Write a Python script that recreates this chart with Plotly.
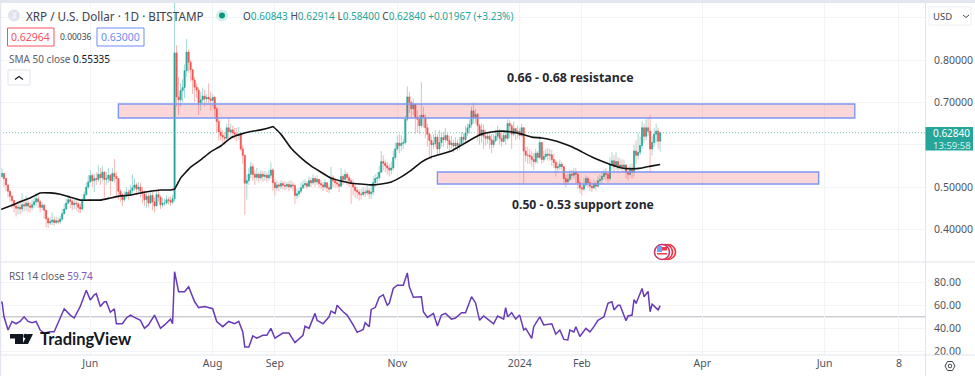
import pandas as pd
import plotly.graph_objects as go

start_date = "2023-04-17"
closes = [
 .525,.532,.520,.505,.490,.478,.468,.455,.450,.452,
 .448,.458,.455,.462,.455,.452,.458,.465,.472,.465,
 .452,.457,.445,.425,.415,.418,.422,.416,.420,.418,
 .424,.437,.448,.462,.470,.466,.458,.462,.460,.452,
 .448,.470,.482,.500,.512,.527,.515,.520,.518,.530,
 .522,.535,.518,.520,.528,.515,.532,.525,.520,.490,
 .482,.470,.478,.488,.480,.492,.498,.505,.495,.500,
 .490,.484,.470,.478,.462,.480,.465,.455,.482,.476,
 .458,.462,.462,.470,.468,.464,.472,.817,.713,.706,
 .728,.735,.775,.819,.795,.777,.753,.736,.729,.699,
 .706,.715,.708,.712,.708,.705,.712,.685,.655,.630,
 .622,.618,.615,.640,.630,.635,.628,.625,.622,.625,
 .590,.575,.509,.515,.530,.548,.530,.523,.530,.522,
 .530,.525,.528,.522,.528,.540,.510,.498,.505,.502,
 .508,.504,.502,.506,.500,.505,.503,.480,.484,.490,
 .498,.505,.508,.502,.515,.510,.520,.512,.518,.508,
 .505,.500,.510,.498,.495,.522,.515,.510,.507,.502,
 .525,.518,.530,.522,.515,.508,.500,.492,.488,.483,
 .482,.488,.486,.491,.484,.488,.510,.520,.522,.535,
 .560,.556,.550,.545,.540,.545,.570,.590,.604,.598,
 .603,.605,.660,.713,.700,.685,.695,.665,.660,.645,
 .670,.665,.640,.625,.610,.600,.603,.618,.590,.605,
 .617,.612,.622,.610,.600,.604,.597,.604,.598,.602,
 .618,.612,.628,.640,.648,.680,.665,.672,.645,.622,
 .635,.620,.615,.620,.612,.600,.610,.620,.628,.615,
 .608,.622,.615,.650,.645,.625,.638,.630,.632,.622,
 .640,.585,.575,.575,.572,.565,.560,.580,.570,.605,
 .565,.572,.578,.575,.576,.565,.558,.545,.548,.554,
 .548,.520,.512,.518,.530,.528,.534,.530,.510,.498,
 .495,.505,.520,.510,.502,.498,.508,.502,.515,.518,
 .525,.532,.530,.520,.552,.562,.548,.560,.545,.552,
 .548,.552,.535,.530,.545,.535,.585,.575,.582,.598,
 .640,.620,.640,.632,.590,.605,.625,.632,.60843,.62840,
]
highs = [
 .535,.545,.525,.515,.500,.490,.480,.470,.460,.465,
 .470,.485,.470,.480,.470,.465,.470,.480,.486,.480,
 .470,.465,.460,.440,.430,.428,.440,.430,.430,.428,
 .432,.448,.460,.472,.478,.475,.470,.472,.470,.465,
 .462,.475,.490,.510,.528,.540,.532,.530,.535,.552,
 .545,.550,.538,.535,.545,.530,.545,.566,.535,.520,
 .495,.485,.490,.500,.495,.505,.530,.520,.510,.512,
 .510,.500,.492,.490,.485,.492,.488,.475,.490,.495,
 .480,.475,.472,.480,.476,.478,.482,.938,.835,.760,
 .745,.755,.790,.850,.825,.800,.780,.760,.745,.735,
 .725,.735,.730,.720,.745,.725,.720,.715,.690,.665,
 .640,.635,.630,.650,.665,.650,.645,.640,.640,.642,
 .625,.600,.575,.530,.545,.560,.555,.540,.545,.535,
 .540,.538,.538,.535,.540,.558,.545,.520,.515,.512,
 .516,.514,.514,.512,.514,.516,.512,.508,.496,.498,
 .510,.515,.518,.514,.525,.522,.530,.525,.528,.520,
 .516,.512,.518,.510,.505,.548,.528,.522,.520,.515,
 .545,.530,.540,.535,.528,.520,.518,.505,.500,.495,
 .495,.500,.498,.503,.498,.505,.525,.530,.535,.550,
 .585,.575,.565,.560,.555,.560,.585,.605,.622,.625,
 .622,.615,.668,.738,.725,.705,.710,.695,.680,.670,
 .748,.690,.672,.650,.630,.620,.625,.635,.625,.635,
 .630,.630,.640,.630,.620,.620,.612,.618,.612,.618,
 .630,.628,.645,.650,.660,.690,.700,.685,.675,.650,
 .650,.648,.635,.630,.628,.625,.625,.635,.645,.638,
 .625,.635,.630,.660,.658,.650,.655,.640,.645,.640,
 .650,.642,.595,.595,.590,.585,.580,.590,.585,.620,
 .605,.585,.590,.592,.590,.588,.578,.565,.560,.565,
 .560,.548,.528,.532,.542,.540,.545,.545,.538,.518,
 .510,.522,.528,.525,.518,.512,.518,.515,.525,.530,
 .538,.542,.545,.535,.570,.582,.575,.582,.570,.568,
 .565,.565,.555,.540,.555,.555,.600,.610,.628,.620,
 .655,.650,.660,.665,.670,.620,.640,.650,.640,.62914,
]
lows = [
 .510,.520,.500,.490,.475,.465,.450,.440,.430,.435,
 .435,.440,.442,.445,.440,.440,.445,.450,.455,.450,
 .440,.445,.425,.405,.403,.410,.410,.408,.412,.412,
 .412,.420,.435,.445,.458,.450,.445,.448,.445,.440,
 .438,.445,.468,.480,.495,.510,.500,.488,.505,.512,
 .505,.512,.475,.505,.510,.480,.512,.510,.480,.470,
 .465,.455,.465,.475,.470,.480,.485,.490,.480,.485,
 .475,.462,.455,.450,.452,.460,.445,.440,.455,.465,
 .448,.452,.455,.458,.458,.455,.460,.465,.690,.670,
 .690,.700,.710,.760,.770,.750,.720,.700,.710,.670,
 .680,.695,.690,.695,.695,.680,.690,.665,.630,.610,
 .610,.604,.600,.610,.615,.618,.615,.612,.608,.612,
 .585,.555,.434,.470,.505,.520,.515,.505,.515,.510,
 .515,.512,.515,.512,.515,.520,.490,.478,.490,.490,
 .495,.494,.492,.495,.490,.495,.490,.460,.472,.476,
 .485,.495,.498,.495,.500,.500,.505,.500,.505,.498,
 .495,.490,.495,.488,.485,.495,.500,.498,.498,.488,
 .510,.505,.515,.505,.500,.460,.480,.475,.472,.468,
 .470,.478,.476,.480,.472,.472,.480,.500,.505,.515,
 .540,.540,.535,.530,.525,.530,.540,.565,.585,.580,
 .585,.590,.600,.655,.675,.665,.670,.625,.630,.625,
 .640,.640,.615,.595,.570,.565,.590,.595,.575,.580,
 .595,.595,.605,.590,.585,.590,.582,.590,.585,.588,
 .600,.598,.605,.620,.625,.640,.650,.650,.610,.600,
 .605,.590,.598,.602,.590,.580,.592,.605,.610,.600,
 .595,.605,.600,.610,.615,.590,.620,.610,.615,.612,
 .618,.508,.560,.555,.555,.548,.540,.555,.555,.565,
 .555,.558,.565,.562,.562,.550,.545,.525,.535,.540,
 .540,.505,.500,.505,.515,.518,.520,.505,.495,.485,
 .480,.490,.502,.498,.490,.488,.495,.492,.500,.505,
 .510,.518,.515,.510,.515,.540,.535,.540,.535,.540,
 .535,.535,.520,.515,.525,.520,.525,.555,.565,.575,
 .590,.605,.610,.620,.535,.575,.595,.605,.590,.58400,
]
sma_index = [0,5,10,15,20,25,30,35,40,45,50,55,60,65,70,75,80,85,87,90,95,100,105,110,115,120,125,130,135,136,
             140,145,150,155,160,165,170,175,180,185,190,195,200,205,210,215,220,225,230,235,240,245,250,255,
             260,265,270,275,280,285,290,295,300,305,310,315,320,325,329]
sma_values = [.446,.455,.465,.474,.486,.486,.483,.476,.469,.469,.469,.474,.479,.481,.486,.490,.493,.493,.495,.521,
              .547,.564,.583,.597,.616,.625,.631,.635,.641,.643,
              .625,.592,.569,.550,.535,.521,.514,.509,.507,.505,.507,.512,.524,.540,.559,.571,.578,.585,.599,.613,
              .625,.630,.632,.630,.625,.618,.616,.611,.604,.595,.583,.571,.561,.552,.545,.543,.545,.550,.55335]
rsi_index = [0,1,2,4,6,8,10,12,14,16,18,20,22,25,27,30,32,35,37,40,43,45,47,48,50,52,53,55,57,58,61,63,65,67,70,72,74,
             77,80,82,85,86,87,89,92,94,97,99,102,106,108,111,114,117,119,121,122,124,126,128,131,133,135,137,141,144,147,
             151,152,154,157,158,161,
             164,165,167,168,171,173,176,178,181,182,184,185,187,189,191,193,194,196,198,201,203,204,206,210,211,213,216,218,
             220,222,225,227,230,232,235,237,239,241,244,246,248,251,252,253,255,257,259,261,262,265,266,269,271,275,277,279,
             281,283,284,286,287,289,292,294,296,298,301,303,305,306,308,309,312,313,315,316,317,320,321,323,324,325,328,329]
rsi_values = [61.6,63,50,38.6,46,44,46,50,46,45,46,38.6,36,37,37,49,57,51.5,49,59,73,64.5,69,70,59,63,63,54,57,44,44,49,51.5,49.5,47,40,43,
              51.5,40,43,48,44,89,71.7,71.7,76,63,58,59,57,46,41.5,46,44,46,37,24,24,33.5,31.5,34,34,40,31.5,36,36,27.7,
              34,42,40,53,47,44,
              50,55,53,60,54.4,51.5,43,36.6,39,45,41.5,56.4,58,67,69,60,61.6,74.5,77.4,77.4,88,76,67,67.4,54.4,49.5,53,42,
              51.5,53,48,49,53.6,53.6,67.4,62,47,50.7,46.7,44,50.7,48,58,50,53.6,48,51.5,38.6,40,31.4,41.5,50,43,44,35,38.6,
              30.5,30,38.6,37,41.5,33,40,37,41.5,47,50,61.6,63,56,60,60,46.7,50.7,51.5,65,61.6,74.5,67.4,72,54.4,61,56,59.74]
x_ticks = ["2023-06-01","2023-08-01","2023-09-01","2023-11-01","2024-01-01","2024-02-01","2024-04-01","2024-06-01","2024-07-08"]
x_labels = ["Jun","Aug","Sep","Nov","2024","Feb","Apr","Jun","8"]
price_ticks = [.4,.5,.6,.7,.8,.9]
price_labels = ["0.40000","0.50000","","0.70000","0.80000",""]
rsi_ticks = [20,40,60,80]
rsi_labels = ["20.00","40.00","60.00","80.00"]

dates = pd.date_range(start_date, periods=len(closes), freq="D")
opens = [closes[0]] + closes[:-1]
opens[-1] = 0.60843
body_hi = [max(a, b) for a, b in zip(opens, closes)]
body_lo = [min(a, b) for a, b in zip(opens, closes)]

W, H = 975, 376
L, R, T, B = 0, 925, 3, 355
DIV = 262
def px(x): return (x - L) / (R - L)
def py(y): return (B - y) / (B - T)

UP, DOWN = "#26a69a", "#ef5350"
TXT = "#131722"
GRID = "#f3f4f7"
SEP = "#e0e3eb"
FONT = "Noto Sans, sans-serif"

fig = go.Figure()
fig.add_trace(go.Candlestick(x=dates, open=opens, high=highs, low=lows, close=closes, xaxis="x", yaxis="y",
    increasing=dict(line=dict(color="#a3dad4", width=1), fillcolor="#a3dad4"),
    decreasing=dict(line=dict(color="#f9b5b3", width=1), fillcolor="#f9b5b3")))
fig.add_trace(go.Candlestick(x=dates, open=opens, high=body_hi, low=body_lo, close=closes, xaxis="x", yaxis="y",
    increasing=dict(line=dict(color=UP, width=0.6), fillcolor=UP),
    decreasing=dict(line=dict(color=DOWN, width=0.6), fillcolor=DOWN)))
fig.add_trace(go.Scatter(x=[dates[i] for i in sma_index], y=sma_values, mode="lines", xaxis="x", yaxis="y",
    line=dict(color="#131313", width=1.6, shape="spline", smoothing=0.3)))
fig.add_trace(go.Scatter(x=[dates[i] for i in rsi_index], y=rsi_values, mode="lines", xaxis="x2", yaxis="y2",
    line=dict(color="#673ab7", width=1.5)))

shapes, ann = [], []
def rect(x0, y0, x1, y1, fill=None, line=None, lw=1):
    shapes.append(dict(type="rect", xref="paper", yref="paper", x0=px(x0), x1=px(x1), y0=py(y0), y1=py(y1),
                       fillcolor=fill or "rgba(0,0,0,0)", line=dict(color=line or "rgba(0,0,0,0)", width=lw if line else 0), layer="above"))
def circle(cx, cy, r, fill=None, line=None, lw=1):
    shapes.append(dict(type="circle", xref="paper", yref="paper", x0=px(cx-r), x1=px(cx+r), y0=py(cy-r), y1=py(cy+r),
                       fillcolor=fill or "rgba(0,0,0,0)", line=dict(color=line or "rgba(0,0,0,0)", width=lw if line else 0), layer="above"))
def path(pts, fill=None, line=None, lw=1, close=True):
    d = "M " + " L ".join(f"{px(a):.5f} {py(b):.5f}" for a, b in pts) + (" Z" if close else "")
    shapes.append(dict(type="path", xref="paper", yref="paper", path=d,
                       fillcolor=fill or "rgba(0,0,0,0)", line=dict(color=line or "rgba(0,0,0,0)", width=lw if line else 0), layer="above"))
def text(x, y, s, size=10.5, color=TXT, anchor="left", family=FONT):
    ann.append(dict(xref="paper", yref="paper", x=px(x), y=py(y), text=s, showarrow=False, xanchor=anchor, yanchor="middle",
                    borderpad=0, font=dict(size=size, color=color, family=family)))

# drawn zones
for x0, x1, y0, y1 in [("2023-06-15", "2024-06-16", .6631, .6962), ("2023-11-21", "2024-05-29", .5071, .5355)]:
    shapes.append(dict(type="rect", xref="x", yref="y", x0=x0, x1=x1, y0=y0, y1=y1, layer="above",
                       fillcolor="rgba(242,54,69,0.2)", line=dict(color="#7f97f2", width=1.4)))
# last price line and RSI mid line
shapes.append(dict(type="line", xref="paper", yref="y", x0=0, x1=1, y0=.6284, y1=.6284,
                   line=dict(color=UP, width=1, dash="1px,2px"), layer="below", opacity=.6))
shapes.append(dict(type="line", xref="paper", yref="y2", x0=0, x1=1, y0=50, y1=50, line=dict(color="#b2b5be", width=1), layer="below"))
# frame
rect(0, 0, W, 3, fill="#e4e6ef")
rect(0, 3, 1.2, H, fill="#e4e6ef")
rect(0, 261.5, W, 262.5, fill=SEP)
rect(0, 354.5, W, 355.5, fill=SEP)
rect(925, 3, 926, H, fill=SEP)
# price tag
rect(925.5, 127, 973, 150.5, fill=UP)
text(932, 132.8, "0.62840", 10, "#ffffff")
text(932, 145, "13:59:58", 9.5, "#d8f1ee")
# header
circle(14, 15.5, 6, fill="#e0e3eb")
text(14, 15.5, "X", 8, "#ffffff", "center")
text(25, 15.5, "XRP / U.S. Dollar · 1D · BITSTAMP", 11.7, "#3d414d")
circle(222, 15.5, 6, fill="#d5efec")
circle(222, 15.5, 3, fill="#089981")
text(242, 15.5, '<span style="color:#434651">O</span>0.60843 <span style="color:#434651">H</span>0.62914 <span style="color:#434651">L</span>0.58400 <span style="color:#434651">C</span>0.62840 +0.01967 (+3.23%)', 10, UP)
rect(7.5, 28, 54, 46, fill="#ffffff", line="#f7525f", lw=1)
text(30.7, 37, "0.62964", 10.5, "#f7525f", "center")
text(75.5, 37, "0.00036", 8.5, "#434651", "center")
rect(97, 28, 144, 46, fill="#ffffff", line="#6d8df5", lw=1)
text(120.5, 37, "0.63000", 10.5, "#6d8df5", "center")
text(8, 59, '<span style="color:#5d606b">SMA 50 close</span> 0.55335', 10, TXT)
rect(8, 70, 30, 85, fill="#ffffff", line="#e0e3eb")
path([(15, 79.5), (19, 76.5), (23, 79.5)], line=TXT, lw=1.1, close=False)
rect(929, 7, 971, 25, fill="#ffffff", line="#eceef3")
text(932, 16, "USD", 9.5, "#434651")
path([(963, 15), (966, 17.5), (969, 15)], line="#434651", lw=1, close=False)
# price annotations
text(570, 78, "<b>0.66 - 0.68 resistance</b>", 12.4, "#26282f", "center")
text(583, 204, "<b>0.50 - 0.53 support zone</b>", 12.2, "#26282f", "center")
# RSI label
text(8, 276, '<span style="color:#5d606b">RSI 14 close</span> 59.74', 10, "#7e57c2")
# logo
path([(10, 334), (23, 334), (23, 344), (15, 344), (15, 338.5), (10, 338.5)], fill="#131722")
circle(25.5, 336, 2.2, fill="#131722")
path([(27.5, 334), (33, 334), (28, 344), (22.5, 344)], fill="#131722")
text(39, 339, "<b>TradingView</b>", 16.5, "#131722", family="Lato, sans-serif")
# flag icon
circle(668, 252, 7.5, fill="#ffffff", line="#f23645", lw=1.6)
circle(665, 252, 7.5, fill="#ffffff", line="#f23645", lw=1.6)
circle(662, 252, 7.5, fill="#ffffff", line="#c2386e", lw=1.6)
rect(657, 247, 667, 250.5, fill="#f23645")
rect(657, 253, 667, 254.5, fill="#f23645")
rect(657, 246, 662, 252, fill="#64a7f0")
# settings icon
path([(945, 366), (947.5, 361.5), (952.5, 361.5), (955, 366), (952.5, 370.5), (947.5, 370.5)], line="#434651", lw=1)
circle(950, 366, 1.8, line="#434651")

tick_font = dict(size=10.5, color="#50535e", family=FONT)
x_common = dict(type="date", range=["2023-04-17", "2024-07-21"], tickvals=x_ticks, ticktext=x_labels, showgrid=True,
                gridcolor=GRID, gridwidth=1, zeroline=False, showline=False, ticks="", rangeslider=dict(visible=False))
fig.update_layout(
    width=W, height=H, margin=dict(l=L, r=W-R, t=T, b=H-B, pad=0), paper_bgcolor="#ffffff", plot_bgcolor="#ffffff",
    showlegend=False, hovermode=False, font=dict(family=FONT), shapes=shapes, annotations=ann,
    xaxis=dict(anchor="y", showticklabels=False, **x_common),
    xaxis2=dict(anchor="y2", matches="x", showticklabels=True, tickfont=dict(size=10.5, color="#50535e", family=FONT), **x_common),
    yaxis=dict(domain=[py(DIV), 1], side="right", anchor="x", range=[.3227, .935], tickvals=price_ticks, ticktext=price_labels,
               gridcolor=GRID, zeroline=False, showline=False, ticks="outside", ticklen=6, tickcolor="rgba(0,0,0,0)", tickfont=tick_font),
    yaxis2=dict(domain=[0, py(DIV)], side="right", anchor="x2", range=[17, 97.4], tickvals=rsi_ticks, ticktext=rsi_labels,
                gridcolor=GRID, zeroline=False, showline=False, ticks="outside", ticklen=6, tickcolor="rgba(0,0,0,0)", tickfont=tick_font),
)
fig.write_html("out.html", config=dict(displayModeBar=False), post_script="document.body.style.margin='0';")
